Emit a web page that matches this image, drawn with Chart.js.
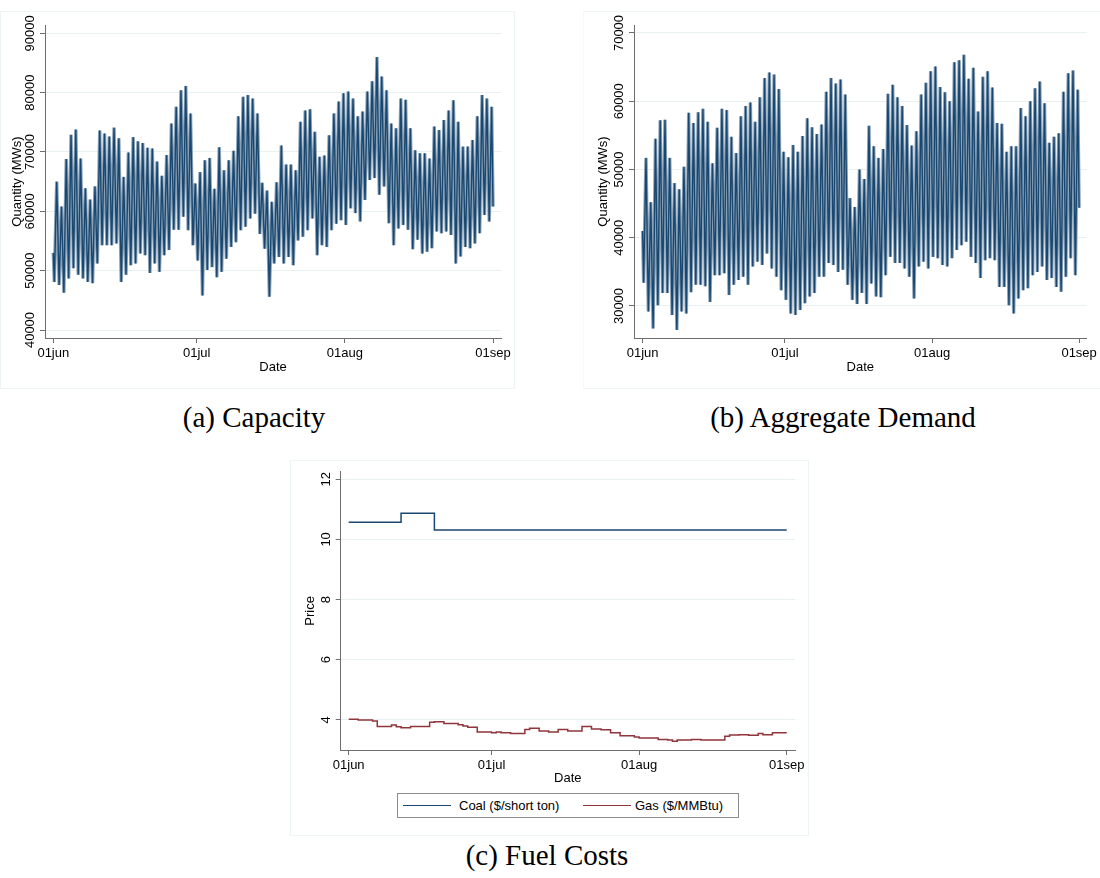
<!DOCTYPE html>
<html>
<head>
<meta charset="utf-8">
<title>Capacity, Aggregate Demand and Fuel Costs</title>
<script src="https://cdn.jsdelivr.net/npm/chart.js@4.4.1/dist/chart.umd.min.js"></script>
<style>
  html, body { margin: 0; padding: 0; background: #ffffff; }
  body { width: 1100px; height: 878px; position: relative; overflow: hidden;
         font-family: "Liberation Sans", Arial, Helvetica, sans-serif; }
  .frame { position: absolute; box-sizing: border-box; border: 1px solid #eef3f4; }
  canvas { position: absolute; }
  .cap { position: absolute; width: 420px; text-align: center; color: #000;
         font-family: "Liberation Serif", "Times New Roman", serif; font-size: 29px; line-height: 34px; }
  .legend { position: absolute; box-sizing: border-box; border: 1px solid #8c8c8c; background: #fff; }
  .legend .key { position: absolute; height: 1px; }
  .legend .txt { position: absolute; font-size: 13px; line-height: 16px; color: #000; white-space: nowrap; }
</style>
</head>
<body>
<div class="frame" style="left:0px;top:11px;width:515px;height:378px;"></div>
<div class="frame" style="left:583px;top:11px;width:518px;height:378px;border-left-color:#f6f9fa;"></div>
<div class="frame" style="left:290px;top:460px;width:519px;height:376px;"></div>

<canvas id="capacity" width="514" height="380" style="left:0px;top:10px;"></canvas>
<canvas id="demand" width="515" height="380" style="left:585px;top:10px;"></canvas>
<canvas id="fuel" width="519" height="330" style="left:290px;top:460px;"></canvas>

<div class="legend" style="left:397px;top:793px;width:342px;height:25px;">
  <div class="key" style="left:5px;top:11px;width:48px;background:#1a476f;"></div>
  <div class="txt" style="left:61px;top:4px;">Coal ($/short ton)</div>
  <div class="key" style="left:185px;top:11px;width:48px;background:#90353b;"></div>
  <div class="txt" style="left:237px;top:4px;">Gas ($/MMBtu)</div>
</div>

<div class="cap" style="left:44px;top:400px;">(a) Capacity</div>
<div class="cap" style="left:633px;top:400px;">(b) Aggregate Demand</div>
<div class="cap" style="left:337px;top:838px;">(c) Fuel Costs</div>

<script>
// ---- Calendar axis: days counted from 1 June ----
const dayTicks = [0, 30, 61, 92];
const dayTickLabels = ['01jun', '01jul', '01aug', '01sep'];
// hour of the daily low and daily high within each day
const TROUGH_HOUR = 5;
const PEAK_HOUR = 17;

// ---- (a) Capacity, MWs: daily low and high, 1 Jun .. 31 Aug ----
const capacityStart = 53000;
const capacityEnd = 60800;
const capacityTroughs = [
  48100, 47600, 46300, 48700, 50400, 49300, 48700, 48100, 47900, 51200,
  54300, 54300, 54300, 54600, 48100, 49300, 50900, 51200, 52900, 52600,
  49600, 51200, 49800, 52600, 53500, 56900, 56900, 59100, 56800, 54300,
  51700, 45800, 50100, 50600, 48900, 49800, 52000, 54000, 54800, 56800,
  57400, 58800, 59600, 56200, 53700, 45600, 51200, 52300, 51200, 52300,
  50900, 55100, 55700, 56800, 58800, 52600, 54300, 54000, 56800, 57900,
  58500, 57700, 60500, 59700, 58300, 61900, 65300, 65600, 62800, 64200,
  58000, 54300, 57100, 57700, 56900, 53600, 55200, 52900, 53200, 53800,
  56600, 56300, 56600, 56000, 51200, 52400, 54000, 53800, 54600, 56300,
  59400, 58300
];
const capacityPeaks = [
  65000, 60800, 68800, 72900, 73800, 68900, 63900, 62000, 64200, 73600,
  73100, 72600, 74100, 72300, 65800, 69900, 72500, 71800, 71500, 70700,
  70600, 68400, 66000, 69500, 74800, 77600, 80400, 81100, 76500, 64700,
  66600, 68600, 69000, 63800, 70800, 66900, 68600, 70200, 76000, 79300,
  79600, 79000, 76500, 64800, 63500, 61600, 64900, 71100, 67900, 67900,
  66900, 75100, 77000, 77200, 73400, 69200, 69400, 72800, 76500, 78500,
  79900, 80200, 79000, 76000, 76800, 80200, 81900, 86000, 82700, 80400,
  74800, 74000, 79000, 78800, 74000, 70300, 69800, 69800, 68900, 74300,
  73700, 75400, 77000, 78700, 75100, 70900, 70900, 72000, 76000, 79600,
  79000, 77600
];
const capacityTicks = [40000, 50000, 60000, 70000, 80000, 90000];

// ---- (b) Aggregate demand, MWs ----
const demandStart = 41000;
const demandEnd = 44400;
const demandTroughs = [
  33400, 29200, 26700, 30100, 31900, 31900, 28700, 26500, 29200, 28900,
  32000, 33100, 33100, 32900, 30600, 34500, 34500, 34800, 31600, 33100,
  33800, 34300, 33100, 35800, 36500, 36000, 37700, 35500, 34300, 32300,
  30900, 28900, 28700, 29400, 30400, 31400, 31900, 34300, 34300, 36300,
  36000, 35000, 35300, 33100, 30900, 30300, 31900, 30300, 33300, 31400,
  31300, 34500, 37200, 36300, 36300, 35500, 34300, 31100, 35800, 36500,
  35500, 37200, 37000, 36000, 35800, 37000, 38200, 38900, 39400, 37200,
  36300, 34100, 36700, 37000, 36700, 32800, 32800, 30100, 28900, 31100,
  32300, 32600, 34500, 35000, 35800, 33800, 34100, 32800, 32100, 34300,
  37000, 34500
];
const demandPeaks = [
  51700, 45200, 54500, 57200, 57300, 51700, 48000, 47100, 50400, 58300,
  56800, 58400, 58900, 57000, 50900, 56100, 58900, 58700, 54800, 52400,
  57800, 59300, 59800, 57000, 60600, 63400, 64200, 63900, 61800, 52600,
  51800, 53600, 52600, 54900, 57500, 56200, 55200, 56600, 61400, 63400,
  62600, 63200, 61000, 45800, 44500, 50000, 48600, 56400, 53400, 51700,
  53000, 61100, 62400, 60600, 59300, 56500, 53500, 55600, 61000, 62700,
  64400, 65100, 62100, 61300, 60000, 65700, 66000, 66800, 63300, 64900,
  58500, 63600, 64400, 62000, 56800, 56700, 52600, 53400, 53400, 59000,
  57800, 60000, 61900, 62900, 59700, 53900, 54800, 55300, 61400, 64100,
  64500, 61700
];
const demandTicks = [30000, 40000, 50000, 60000, 70000];

// ---- (c) Fuel prices, one value per day 1 Jun .. 1 Sep ----
const coalPrice = [
  10.57, 10.57, 10.57, 10.57, 10.57, 10.57, 10.57, 10.57, 10.57, 10.57,
  10.57, 10.87, 10.87, 10.87, 10.87, 10.87, 10.87, 10.87, 10.31, 10.31,
  10.31, 10.31, 10.31, 10.31, 10.31, 10.31, 10.31, 10.31, 10.31, 10.31,
  10.31, 10.31, 10.31, 10.31, 10.31, 10.31, 10.31, 10.31, 10.31, 10.31,
  10.31, 10.31, 10.31, 10.31, 10.31, 10.31, 10.31, 10.31, 10.31, 10.31,
  10.31, 10.31, 10.31, 10.31, 10.31, 10.31, 10.31, 10.31, 10.31, 10.31,
  10.31, 10.31, 10.31, 10.31, 10.31, 10.31, 10.31, 10.31, 10.31, 10.31,
  10.31, 10.31, 10.31, 10.31, 10.31, 10.31, 10.31, 10.31, 10.31, 10.31,
  10.31, 10.31, 10.31, 10.31, 10.31, 10.31, 10.31, 10.31, 10.31, 10.31,
  10.31, 10.31, 10.31
];
const gasPrice = [
  4.02, 4.02, 4.00, 4.00, 4.00, 3.96, 3.78, 3.78, 3.78, 3.83,
  3.77, 3.74, 3.74, 3.78, 3.78, 3.78, 3.78, 3.92, 3.94, 3.94,
  3.88, 3.88, 3.88, 3.84, 3.80, 3.76, 3.76, 3.60, 3.60, 3.60,
  3.57, 3.60, 3.57, 3.57, 3.55, 3.55, 3.55, 3.68, 3.72, 3.72,
  3.63, 3.63, 3.60, 3.60, 3.68, 3.68, 3.63, 3.63, 3.63, 3.78,
  3.78, 3.70, 3.70, 3.67, 3.67, 3.57, 3.57, 3.47, 3.47, 3.47,
  3.43, 3.40, 3.40, 3.40, 3.40, 3.35, 3.35, 3.33, 3.29, 3.33,
  3.33, 3.33, 3.35, 3.35, 3.33, 3.33, 3.33, 3.33, 3.33, 3.46,
  3.50, 3.50, 3.51, 3.51, 3.49, 3.49, 3.55, 3.51, 3.51, 3.57,
  3.57, 3.57, 3.57
];
const priceTicks = [4, 6, 8, 10, 12];

// ---- styling ----
const NAVY = '#1a476f';
const NAVY_LIGHT = '#8aa2b8';
const MAROON = '#90353b';
const MAROON_LIGHT = '#d3a9ac';
const AXIS = '#6e6e6e';
const GRID = '#e8f0f1';
const TEXT = '#000000';
const FONT = { family: '"Liberation Sans", Arial, Helvetica, sans-serif', size: 13 };
const FONT_CSS = '13px "Liberation Sans", Arial, Helvetica, sans-serif';

// Daily low/high pairs become one continuous series over the summer
function dailyCycle(start, troughs, peaks, end) {
  const pts = [{ x: dayTicks[0], y: start }];
  troughs.forEach((low, d) => {
    pts.push({ x: d + TROUGH_HOUR / 24, y: low });
    pts.push({ x: d + PEAK_HOUR / 24, y: peaks[d] });
  });
  pts.push({ x: dayTicks[dayTicks.length - 1], y: end });
  return pts;
}
function daily(values) {
  return values.map((v, d) => ({ x: d, y: v }));
}

// A series drawn as a soft wide stroke with the crisp line on top
function strokedSeries(label, points, color, halo, extra) {
  return [
    Object.assign({ label: label + ' (halo)', data: points, borderColor: halo, borderWidth: 3.4, fill: false, order: 2 }, extra),
    Object.assign({ label: label, data: points, borderColor: color, borderWidth: 1.4, fill: false, order: 1 }, extra)
  ];
}

// Vertical (rotated) value labels next to the y axis
const yTickText = {
  id: 'yTickText',
  afterDraw(chart, args, opts) {
    const s = chart.scales.y;
    const ctx = chart.ctx;
    ctx.save();
    ctx.font = FONT_CSS;
    ctx.fillStyle = TEXT;
    ctx.textAlign = 'center';
    ctx.textBaseline = 'middle';
    s.ticks.forEach(t => {
      const y = s.getPixelForValue(t.value);
      ctx.save();
      ctx.translate(s.right - opts.offset, y);
      ctx.rotate(-Math.PI / 2);
      ctx.fillText(String(t.value), 0, 1);
      ctx.restore();
    });
    ctx.restore();
  }
};

function makeChart(id, cfg) {
  return new Chart(document.getElementById(id), {
    type: 'line',
    data: { datasets: cfg.datasets },
    options: {
      responsive: false,
      animation: false,
      devicePixelRatio: 1,
      layout: { padding: cfg.padding },
      plugins: {
        legend: { display: false },
        tooltip: { enabled: false },
        yTickText: { offset: 15.5 }
      },
      elements: { point: { radius: 0 }, line: { tension: 0 } },
      scales: {
        x: {
          type: 'linear',
          min: cfg.xMin,
          max: cfg.xMax,
          afterBuildTicks: s => { s.ticks = dayTicks.map(v => ({ value: v })); },
          afterFit: s => { s.height = cfg.xHeight; },
          ticks: {
            callback: v => dayTickLabels[dayTicks.indexOf(v)],
            font: FONT, color: TEXT, padding: 3, maxRotation: 0, minRotation: 0, autoSkip: false
          },
          grid: { drawOnChartArea: false, drawTicks: true, tickLength: 5, color: AXIS, tickColor: AXIS },
          border: { display: true, color: AXIS, width: 1 },
          title: { display: true, text: 'Date', font: FONT, color: TEXT, padding: 0 }
        },
        y: {
          type: 'linear',
          min: cfg.yMin,
          max: cfg.yMax,
          afterBuildTicks: s => { s.ticks = cfg.yTicks.map(v => ({ value: v })); },
          afterFit: s => { s.width = cfg.yWidth; },
          ticks: { display: false },
          grid: { drawOnChartArea: true, drawTicks: true, tickLength: 5, color: GRID, tickColor: AXIS },
          border: { display: true, color: AXIS, width: 1 },
          title: { display: true, text: cfg.yTitle, font: FONT, color: TEXT, padding: 0 }
        }
      }
    },
    plugins: [yTickText]
  });
}

makeChart('capacity', {
  datasets: strokedSeries('Capacity',
    dailyCycle(capacityStart, capacityTroughs, capacityPeaks, capacityEnd), NAVY, NAVY_LIGHT, {}),
  padding: { left: 9.2, top: 15, right: 13, bottom: 15.2 },
  yWidth: 35.8, xHeight: 36.8,
  xMin: -1.74, xMax: 93.67,
  yMin: 38652, yMax: 91399, yTicks: capacityTicks,
  yTitle: 'Quantity (MWs)'
});

makeChart('demand', {
  datasets: strokedSeries('Aggregate Demand',
    dailyCycle(demandStart, demandTroughs, demandPeaks, demandEnd), NAVY, NAVY_LIGHT, {}),
  padding: { left: 10.2, top: 15, right: 10.7, bottom: 15.2 },
  yWidth: 38.8, xHeight: 36.8,
  xMin: -1.82, xMax: 93.6,
  yMin: 25311, yMax: 71172, yTicks: demandTicks,
  yTitle: 'Quantity (MWs)'
});

makeChart('fuel', {
  datasets: [
    { label: 'Coal ($/short ton)', data: daily(coalPrice), stepped: true,
      borderColor: NAVY, borderWidth: 1.5, fill: false },
    { label: 'Gas ($/MMBtu)', data: daily(gasPrice), stepped: true,
      borderColor: MAROON, borderWidth: 1.5, fill: false }
  ],
  padding: { left: 12.9, top: 11.7, right: 14, bottom: 4.2 },
  yWidth: 37.8, xHeight: 35.8,
  xMin: -1.68, xMax: 93.74,
  yMin: 3.0, yMax: 12.25, yTicks: priceTicks,
  yTitle: 'Price'
});
</script>
</body>
</html>
